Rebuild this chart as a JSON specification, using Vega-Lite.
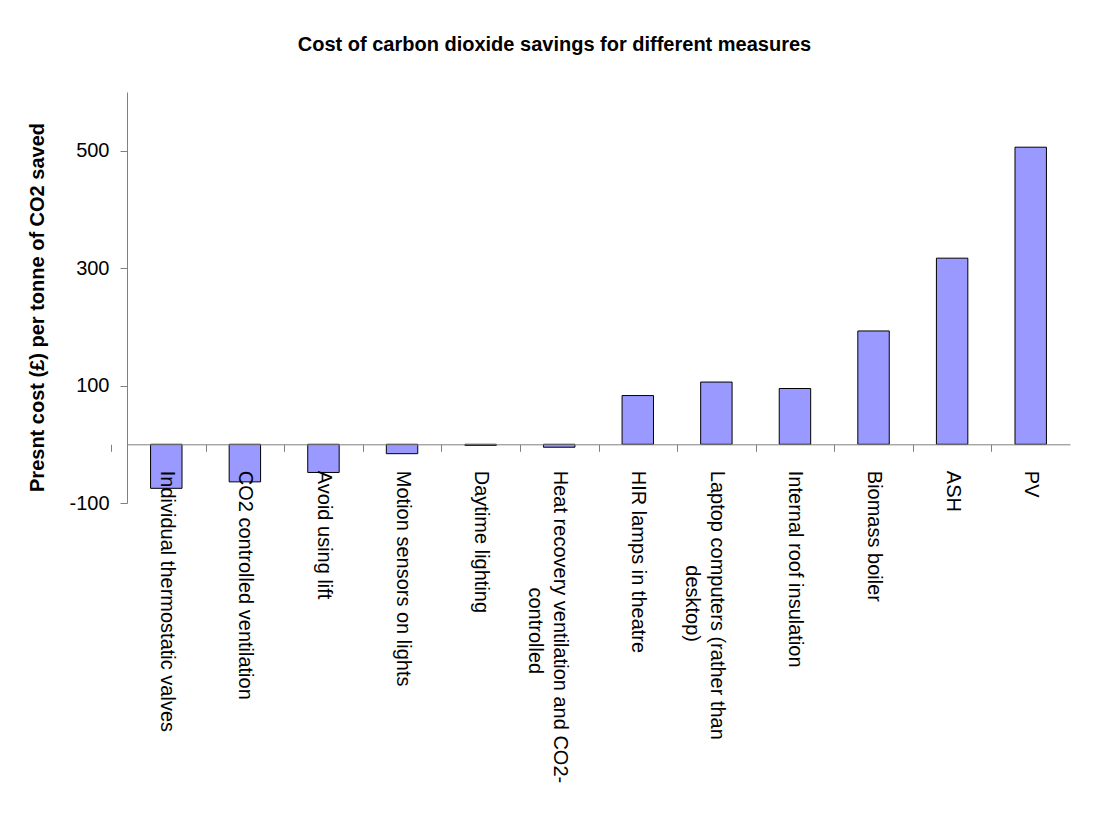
{
  "$schema": "https://vega.github.io/schema/vega-lite/v6.json",
  "width": 943,
  "height": 411,
  "autosize": "none",
  "padding": {"left": 127, "top": 92, "right": 23, "bottom": 328},
  "background": "white",
  "title": {
    "text": "Cost of carbon dioxide savings for different measures",
    "font": "Liberation Sans",
    "fontSize": 20,
    "fontWeight": "bold",
    "color": "black",
    "anchor": "middle",
    "baseline": "alphabetic",
    "offset": 21,
    "dx": -44
  },
  "data": {
    "values": [
      {"measure": "Individual thermostatic valves", "cost": -75},
      {"measure": "CO2 controlled ventilation", "cost": -64},
      {"measure": "Avoid using lift", "cost": -48},
      {"measure": "Motion sensors on lights", "cost": -16},
      {"measure": "Daytime lighting", "cost": -2},
      {"measure": "Heat recovery ventilation and CO2-|controlled", "cost": -5},
      {"measure": "HIR lamps in theatre", "cost": 83},
      {"measure": "Laptop computers (rather than|desktop)", "cost": 106},
      {"measure": "Internal roof insulation", "cost": 95},
      {"measure": "Biomass boiler", "cost": 193},
      {"measure": "ASH", "cost": 317},
      {"measure": "PV", "cost": 506}
    ]
  },
  "mark": {"type": "bar", "fill": "#9999FF", "stroke": "black", "strokeWidth": 1},
  "encoding": {
    "x": {
      "field": "measure",
      "type": "nominal",
      "sort": null,
      "scale": {"paddingInner": 0.6, "paddingOuter": 0.3},
      "axis": {
        "title": null,
        "offset": -58.7,
        "zindex": 1,
        "labelAngle": 90,
        "labelAlign": "left",
        "labelPadding": 19,
        "labelBaseline": "middle",
        "labelExpr": "indexof(datum.label, '|') >= 0 ? [split(datum.label, '|')[0], '\u200b' + pad('', indexof(datum.label, 'Heat') == 0 ? 21 : 17, '\u00a0') + split(datum.label, '|')[1]] : datum.label",
        "labelLineHeight": 25,
        "labelLimit": 0,
        "labelFont": "Liberation Sans",
        "labelFontSize": 20,
        "labelColor": "black",
        "labelOverlap": false,
        "tickOffset": -39.29,
        "labelOffset": 39.29,
        "tickExtra": true,
        "tickSize": 7,
        "tickWidth": 1,
        "tickColor": "#808080",
        "domainColor": "#808080",
        "grid": false
      }
    },
    "y": {
      "field": "cost",
      "type": "quantitative",
      "scale": {"domain": [-100, 600], "nice": false, "zero": false},
      "axis": {
        "title": "Presnt cost (£) per tonne of CO2 saved",
        "titleFont": "Liberation Sans",
        "titleFontSize": 20,
        "titleFontWeight": "bold",
        "titleColor": "black",
        "titleAngle": -90,
        "titleAlign": "center",
        "titleBaseline": "alphabetic",
        "titleX": -84,
        "titleY": 215,
        "values": [-100, 100, 300, 500],
        "labelExpr": "replace(datum.label, '\u2212', '-')",
        "labelFont": "Liberation Sans",
        "labelFontSize": 20,
        "labelColor": "black",
        "labelPadding": 11,
        "tickSize": 7,
        "tickColor": "#808080",
        "domainColor": "#808080",
        "grid": false
      }
    }
  },
  "config": {
    "view": {"stroke": null}
  }
}
